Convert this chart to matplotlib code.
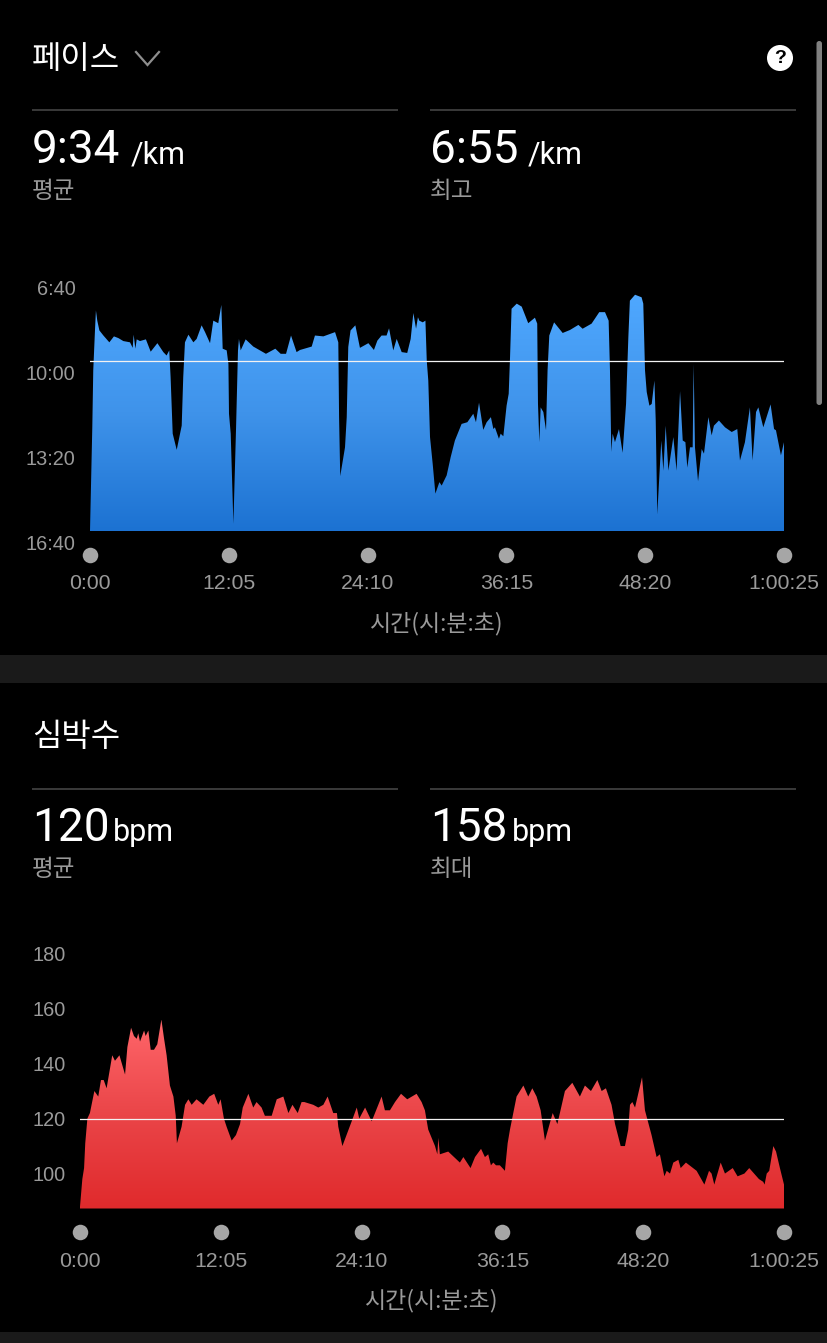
import numpy as np
import matplotlib
matplotlib.use("Agg")
import matplotlib.pyplot as plt
from matplotlib.patches import Rectangle, Circle, FancyBboxPatch
from matplotlib.transforms import blended_transform_factory
from matplotlib.colors import LinearSegmentedColormap

KR = ['Noto Sans CJK KR', 'DejaVu Sans']
LAT = ['Liberation Sans', 'DejaVu Sans']
BIG = ['Roboto', 'Liberation Sans', 'DejaVu Sans']

pace_t = [0,12,17,26,31,38,49,70,101,125,148,174,209,223,228,237,244,261,292,317,352,383,400,414,421,432,453,479,487,496,514,540,557,583,601,627,644,670,686,693,714,723,726,735,749,763,773,778,787,813,853,919,968,996,1024,1050,1079,1097,1158,1175,1219,1280,1297,1301,1307,1332,1341,1349,1361,1386,1410,1454,1483,1501,1523,1549,1562,1584,1602,1628,1657,1675,1689,1703,1713,1720,1738,1752,1759,1767,1776,1790,1804,1825,1837,1863,1884,1906,1941,1971,2002,2016,2032,2054,2072,2094,2107,2115,2136,2145,2159,2176,2187,2194,2202,2229,2255,2289,2324,2336,2340,2347,2354,2368,2382,2390,2399,2424,2469,2507,2551,2573,2620,2660,2690,2709,2716,2723,2730,2742,2763,2782,2800,2812,2820,2847,2881,2890,2899,2908,2922,2934,2948,2955,2963,2984,2995,3007,3021,3047,3064,3082,3096,3110,3120,3134,3148,3153,3160,3176,3195,3207,3230,3247,3259,3285,3317,3352,3381,3395,3421,3447,3461,3479,3491,3517,3555,3573,3583,3609,3625]
pace_s = [973,729,595,501,454,478,501,513,529,515,519,526,529,542,511,544,522,526,522,551,531,552,560,548,611,744,782,725,611,529,511,529,521,489,505,531,478,484,441,544,548,580,697,744,956,729,548,521,548,522,539,556,544,556,556,513,552,547,539,513,515,505,529,705,844,776,705,540,501,489,542,531,547,525,513,513,496,548,521,552,554,521,460,497,470,478,482,478,572,619,752,815,885,858,866,842,799,760,721,717,697,717,671,735,717,705,733,729,756,744,750,678,650,564,450,438,445,484,471,485,674,764,682,693,736,595,513,482,507,500,488,497,485,458,458,478,595,787,744,764,733,789,674,517,431,417,423,438,595,646,678,674,619,713,934,760,831,725,831,752,831,644,760,764,824,776,776,580,776,856,780,791,705,748,725,713,729,740,733,807,764,682,807,693,682,729,675,733,736,795,764]

hr_t = [0,12,21,27,38,51,74,94,108,122,137,166,180,203,232,244,263,278,292,300,309,330,338,352,364,381,398,419,433,446,463,481,493,499,523,541,558,575,600,635,666,691,712,724,741,755,781,803,824,838,867,892,909,935,952,987,1013,1047,1073,1094,1121,1141,1155,1201,1227,1253,1275,1304,1323,1330,1351,1399,1425,1438,1468,1502,1553,1570,1596,1622,1653,1685,1733,1759,1776,1793,1828,1840,1845,1853,1896,1956,1974,2011,2034,2065,2085,2102,2116,2128,2142,2162,2188,2202,2214,2248,2283,2308,2329,2351,2372,2394,2434,2458,2497,2535,2574,2600,2631,2664,2686,2708,2737,2755,2784,2806,2823,2832,2844,2858,2894,2909,2943,2969,2986,3009,3021,3038,3055,3081,3093,3120,3175,3215,3239,3252,3266,3299,3321,3361,3386,3421,3446,3496,3518,3525,3536,3549,3570,3584,3604,3625]
hr_v = [88,98,102,111,120,122,130,128,134,134,131,143,141,143,136,146,153,150,149,151,148,152,150,152,145,145,147,156,149,143,132,128,121,111,117,125,127,125,127,125,128,129,125,127,120,117,112,114,118,124,129,124,126,124,121,121,127,128,122,125,122,126,126,125,124,125,128,122,122,117,110,119,124,120,124,119,128,123,123,126,129,127,129,126,123,116,110,107,113,107,108,104,106,102,106,109,106,107,103,104,103,103,101,111,116,128,132,128,131,128,123,112,122,118,130,133,128,132,130,134,130,131,125,118,110,110,116,125,126,124,135,123,114,106,107,99,101,100,104,105,102,104,101,96,101,100,96,104,100,102,99,100,102,98,97,96,100,101,110,108,102,96]

x_ticks = [0, 725, 1450, 2175, 2900, 3625]
x_labels = ['0:00', '12:05', '24:10', '36:15', '48:20', '1:00:25']
pace_ticks = [400, 600, 800, 1000]
pace_labels = ['6:40', '10:00', '13:20', '16:40']
hr_ticks = [100, 120, 140, 160, 180]
pace_avg = 574
hr_avg = 120
pace_base = 973
hr_base = 87.3

W, H = 828, 1343
fig = plt.figure(figsize=(W/100, H/100), dpi=100, facecolor='black')

# page furniture in pixel coordinates
bg = fig.add_axes([0, 0, 1, 1], zorder=0)
bg.set_xlim(0, W); bg.set_ylim(H, 0); bg.axis('off')
bg.add_patch(Rectangle((0, 655), W, 28, fc='#1a1a1a', ec='none'))
bg.add_patch(Rectangle((0, 1332), W, 11, fc='#1a1a1a', ec='none'))
bg.add_patch(FancyBboxPatch((816.5, 41), 5.5, 364, boxstyle='round,pad=0,rounding_size=2.7', fc='#808080', ec='none'))
for y in (110, 789):
    bg.plot([32, 398], [y, y], color='#4a4a4a', lw=1.1, solid_capstyle='butt')
    bg.plot([430, 796], [y, y], color='#4a4a4a', lw=1.1, solid_capstyle='butt')

bg.text(32, 68, '페이스', family=KR, fontsize=23, color='white', weight='medium', va='baseline')
bg.text(32, 746, '심박수', family=KR, fontsize=23, color='white', weight='medium', va='baseline')
bg.plot([136, 147.5, 159], [52, 65, 52], color='#8e8e8e', lw=1.6, solid_joinstyle='miter')
bg.add_patch(Circle((780, 58), 13, fc='white', ec='none'))
bg.text(780, 58.5, '?', family=LAT, fontsize=14, weight='bold', color='black', ha='center', va='center')

def stat(x, y, big, ux, unit, lab):
    bg.text(x, y, big, family=BIG, fontsize=33, color='white', va='baseline')
    bg.text(ux, y, unit, family=BIG, fontsize=22, color='white', va='baseline')
    bg.text(x, y + 35, lab, family=KR, fontsize=17, color='#9a9a9a', va='baseline')

stat(32, 163, '9:34', 131, '/km', '평균')
stat(430, 163, '6:55', 528, '/km', '최고')
stat(32, 841, '120', 113, 'bpm', '평균')
stat(430, 841, '158', 512, 'bpm', '최대')


def panel(px0, px1, py_top, py_bot, t, v, base, ylim, yticks, ylabels, avg,
          colors, dot_y, pad, labelpad):
    ax = fig.add_axes([px0/W, 1-py_bot/H, (px1-px0)/W, (py_bot-py_top)/H], zorder=2)
    ax.set_facecolor('none')
    for s in ax.spines.values():
        s.set_visible(False)
    poly = ax.fill_between(t, v, base, facecolor='none', edgecolor='none')
    cmap = LinearSegmentedColormap.from_list('g', colors)
    grad = np.linspace(0, 1, 256).reshape(-1, 1)
    top = min(v) if ylim[0] > ylim[1] else max(v)
    im = ax.imshow(grad, cmap=cmap, extent=[t[0], t[-1], base, top], aspect='auto',
                   interpolation='bilinear', origin='upper', zorder=1)
    im.set_clip_path(poly.get_paths()[0], transform=ax.transData)
    ax.plot([t[0], t[-1]], [avg, avg], color='#f2f2f2', lw=0.9, zorder=3)
    tr = blended_transform_factory(ax.transData, ax.transAxes)
    ax.scatter(x_ticks, [dot_y]*len(x_ticks), s=125, color='#a6a6a6', transform=tr,
               clip_on=False, linewidths=0, zorder=4)
    ax.set_xlim(0, 3625)
    ax.set_ylim(*ylim)
    ax.set_xticks(x_ticks)
    ax.set_xticklabels(x_labels, family=LAT, fontsize=15.3, color='#9a9a9a')
    ax.set_yticks(yticks)
    ax.set_yticklabels(ylabels, family=LAT, fontsize=14.3, color='#9a9a9a')
    ax.tick_params(axis='x', length=0, pad=pad)
    ax.tick_params(axis='y', length=0, pad=10.5)
    ax.set_xlabel('시간(시:분:초)', family=KR, fontsize=16.5, color='#9a9a9a', labelpad=labelpad)
    return ax

panel(90, 784, 287.5, 542.5, pace_t, pace_s, pace_base, (1000, 400), pace_ticks, pace_labels,
      pace_avg, ['#4fa8ff', '#3f93ea', '#1c72d2'], -0.049, 23, 13)
panel(80, 784, 953.5, 1208.5, hr_t, hr_v, hr_base, (hr_base, 180), hr_ticks, [str(v) for v in hr_ticks],
      hr_avg, ['#ff666a', '#ea4548', '#e02a2c'], -0.092, 31, 13)

fig.savefig('out.png', dpi=100, facecolor='black')
